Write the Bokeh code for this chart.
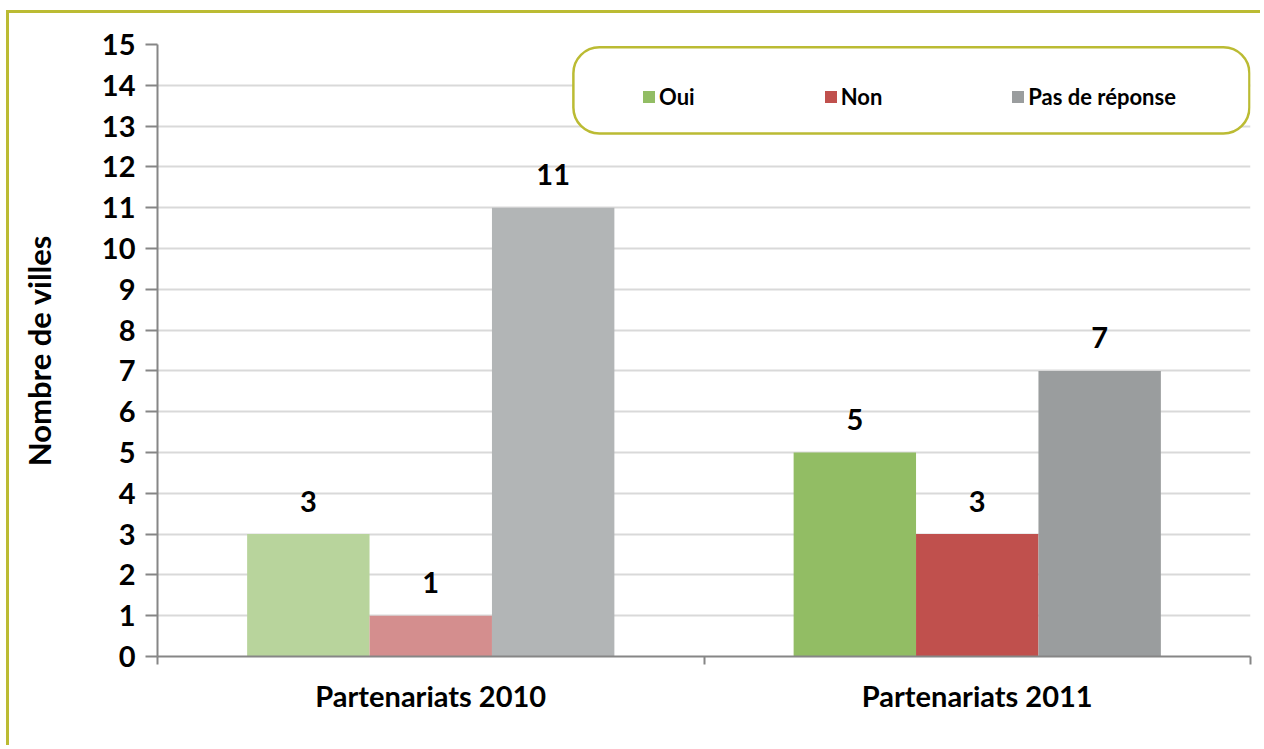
from bokeh.plotting import figure
from bokeh.models import (Range1d, FixedTicker, ColumnDataSource, Legend, LegendItem,
                          BoxAnnotation)
from bokeh.core.properties import value
from bokeh.embed import file_html
from bokeh.resources import INLINE

categories = ["Partenariats 2010", "Partenariats 2011"]
series = ["Oui", "Non", "Pas de réponse"]
oui = [3, 5]
non = [1, 3]
pas = [11, 7]
oui_colors = ["#B8D49C", "#92BD64"]
non_colors = ["#D48E8E", "#C0504D"]
pas_colors = ["#B2B5B6", "#9A9D9E"]
y_ticks = list(range(0, 16))

FONT = "Lato"
BORDER = "#BBBB33"

p = figure(width=1254, height=735, output_backend="svg", toolbar_location=None,
           x_range=Range1d(0, len(categories)), y_range=Range1d(0, 15),
           min_border_left=148, min_border_right=13, min_border_top=31, min_border_bottom=92)
p.styles = {"border-left": f"3px solid {BORDER}", "border-top": f"3px solid {BORDER}",
            "margin-left": "6px", "margin-top": "10px"}
p.outline_line_color = None
p.background_fill_color = "white"
p.border_fill_color = "white"

centers = [i + 0.5 for i in range(len(categories))]
bw = 0.224
offsets = [-bw, 0.0, bw]
vals = [oui, non, pas]
cols = [oui_colors, non_colors, pas_colors]

renderers = []
for s, v, c, off in zip(series, vals, cols, offsets):
    src = ColumnDataSource(dict(x=[cx + off for cx in centers], top=v, color=c,
                                label=[str(t) for t in v]))
    r = p.vbar(x="x", top="top", width=bw, bottom=0, fill_color="color",
               line_color=None, source=src)
    renderers.append(r)
    p.text(x="x", y="top", text="label", source=src, text_align="center",
           text_baseline="middle", y_offset=-33, text_font=value(FONT),
           text_font_style="bold", text_font_size="29px", text_color="black")

# axes
p.xgrid.visible = False
p.ygrid.grid_line_color = "#D9D9D9"
p.ygrid.grid_line_width = 2
p.yaxis.ticker = FixedTicker(ticks=y_ticks)
p.xaxis.ticker = FixedTicker(ticks=centers, minor_ticks=list(range(len(categories) + 1)))
p.xaxis.major_label_overrides = {c: lab for c, lab in zip(centers, categories)}

for ax in (p.xaxis[0], p.yaxis[0]):
    ax.axis_line_color = "#868686"
    ax.axis_line_width = 2
    ax.major_tick_line_color = "#868686"
    ax.major_tick_line_width = 2
    ax.minor_tick_line_color = "#868686"
    ax.minor_tick_line_width = 2
    ax.major_label_text_font = FONT
    ax.major_label_text_font_style = "bold"
    ax.major_label_text_color = "black"

p.yaxis.major_tick_out = 12
p.yaxis.major_tick_in = 0
p.yaxis.minor_tick_line_color = None
p.yaxis.major_label_text_font_size = "29px"
p.yaxis.major_label_standoff = 10
p.yaxis.axis_label = "Nombre de villes"
p.yaxis.axis_label_text_font = FONT
p.yaxis.axis_label_text_font_style = "bold"
p.yaxis.axis_label_text_font_size = "31px"
p.yaxis.axis_label_text_color = "black"
p.yaxis.axis_label_standoff = 41

p.xaxis.major_tick_line_color = None
p.xaxis.major_tick_out = 0
p.xaxis.major_tick_in = 0
p.xaxis.minor_tick_out = 8
p.xaxis.minor_tick_in = 0
p.xaxis.major_label_text_font_size = "29px"
p.xaxis.major_label_standoff = 13

# legend box
box = BoxAnnotation(left=0.761, right=1.998, bottom=12.82, top=14.93,
                    fill_color="white", fill_alpha=1.0, line_color=BORDER,
                    line_alpha=1.0, line_width=2.5, border_radius=26)
p.add_layout(box)

items = [LegendItem(label=s, renderers=[r], index=1) for s, r in zip(series, renderers)]
legend = Legend(items=items, orientation="horizontal", location=(484, 546),
                padding=0, margin=0, spacing=128, border_line_color=None,
                background_fill_alpha=0, glyph_width=15, glyph_height=15,
                label_standoff=3, label_text_font=FONT, label_text_font_style="bold",
                label_text_font_size="22px", label_height=20, label_text_color="black")
p.add_layout(legend, "center")

open("out.html", "w").write(file_html(p, INLINE))
